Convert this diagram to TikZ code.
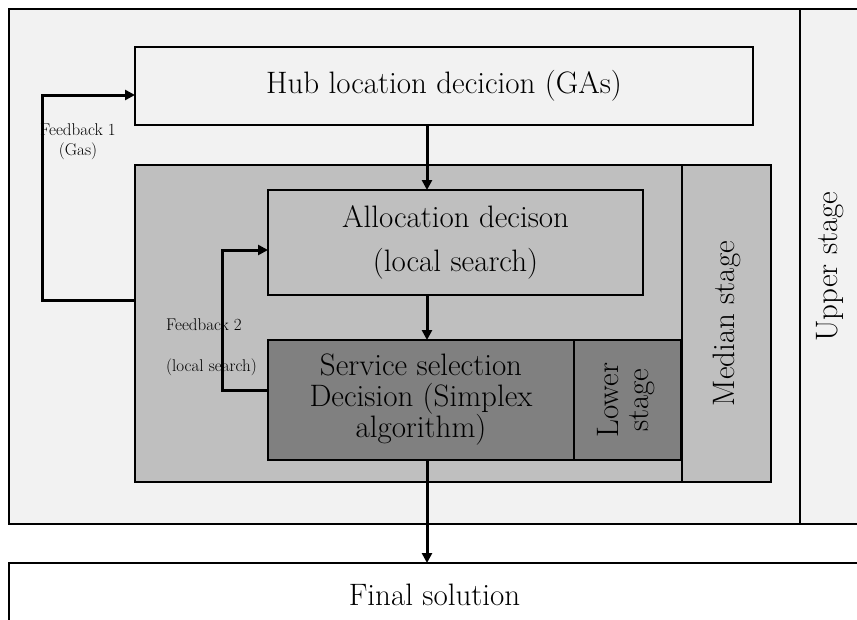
\documentclass[tikz,border=0pt]{standalone}
\usetikzlibrary{arrows.meta}
\definecolor{lightbg}{HTML}{F2F2F2}
\definecolor{midgrey}{HTML}{BFBFBF}
\definecolor{darkgrey}{HTML}{808080}
\tikzset{
  box/.style={draw=black, line width=1.5pt, inner sep=0pt, outer sep=0pt, align=center, font=\fontsize{31}{31}\selectfont},
  arr/.style={line width=3pt, -{Triangle[length=10pt,width=10pt]}},
  fb/.style={font=\fontsize{17}{19}\selectfont, inner sep=0pt}
}
\begin{document}
\begin{tikzpicture}[x=1pt,y=-1pt]
\useasboundingbox (0,0) rectangle (857,619);
\clip (0,0) rectangle (857,619);
\fill[white] (0,0) rectangle (857,619);
% outer
\node[box, fill=lightbg, minimum width=791pt, minimum height=515pt] (outer) at (404.5,266.5) {};
\node[box, fill=lightbg, minimum width=60pt, minimum height=515pt] (upper) at (830,266.5) {\rotatebox{90}{Upper stage}};
\node[box, fill=lightbg, minimum width=618pt, minimum height=78pt] (hub) at (444,86) {Hub location decicion (GAs)};
\node[box, fill=midgrey, minimum width=547pt, minimum height=317pt] (median) at (408.5,323.5) {};
\node[box, fill=midgrey, minimum width=89pt, minimum height=317pt] (medst) at (726.5,323.5) {\rotatebox{90}{Median stage}};
\node[box, fill=midgrey, minimum width=375pt, minimum height=105pt, font=\fontsize{31}{44}\selectfont] (alloc) at (455.5,242.5) {Allocation decison\\(local search)};
\node[box, fill=darkgrey, minimum width=306pt, minimum height=120pt] (serv) at (421,400) {Service selection\\Decision (Simplex\\algorithm)};
\node[box, fill=darkgrey, minimum width=107pt, minimum height=120pt] (lower) at (627.5,400) {\rotatebox{90}{\begin{tabular}{@{}c@{}}Lower\\[-1pt]stage\end{tabular}}};
\node[box, fill=white, minimum width=851pt, minimum height=64pt] (final) at (434.5,595) {Final solution};
% labels
\node[fb, align=center] (fb1) at (78,142) {Feedback 1\\[1pt](Gas)};
\node[fb, anchor=west] (fb2a) at (166,325) {Feedback 2};
\node[fb, anchor=west] (fb2b) at (166,367) {(local search)};
% connectors
\coordinate (ax) at (427,0);
\coordinate (f1) at (42,0);
\coordinate (f2) at (222,0);
\coordinate (f1out) at (135,300);
\coordinate (f1in) at (135,95);
\coordinate (f2out) at (268,390);
\coordinate (f2in) at (268,250);
\draw[arr] (hub.south -| ax) -- (alloc.north -| ax);
\draw[arr] (alloc.south -| ax) -- (serv.north -| ax);
\draw[arr] (serv.south -| ax) -- (final.north -| ax);
\draw[arr] (f1out) -- (f1out -| f1) -- (f1in -| f1) -- (f1in);
\draw[arr] (f2out) -- (f2out -| f2) -- (f2in -| f2) -- (f2in);
\end{tikzpicture}
\end{document}
